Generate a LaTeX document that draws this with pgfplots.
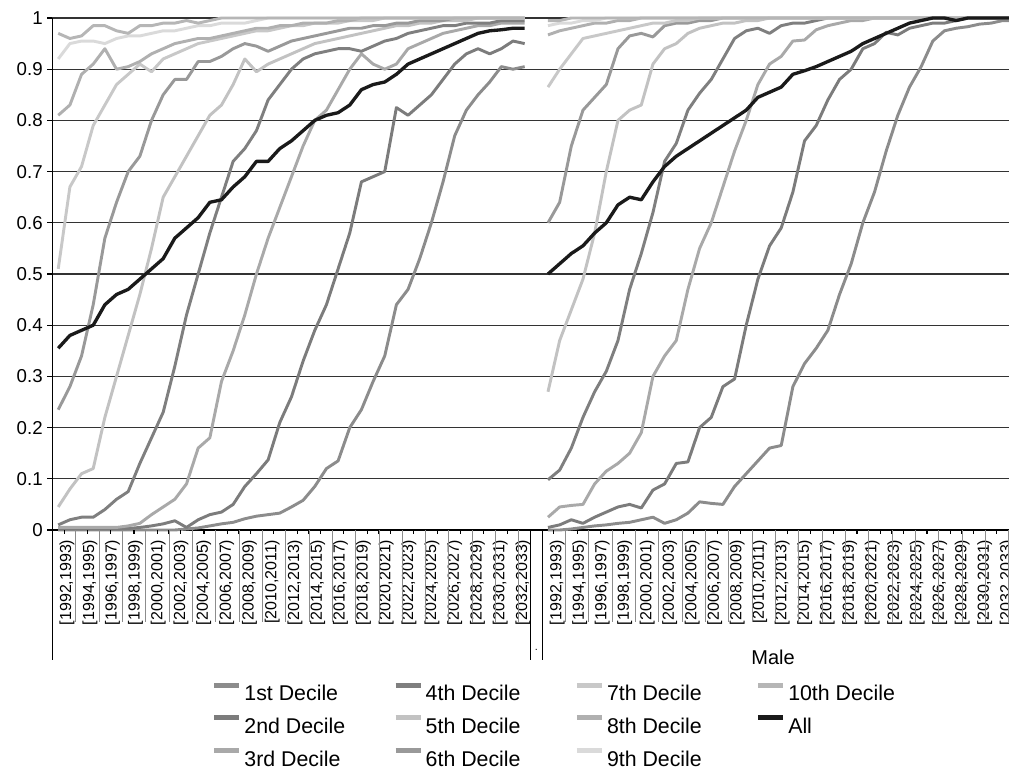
\documentclass[border=0pt]{standalone}
\usepackage{fontspec}
\setmainfont{Liberation Sans}
\usepackage{pgfplots}
\pgfplotsset{compat=1.18}
\usepackage{pgfplotstable}

\definecolor{cA}{HTML}{8C8C8C}
\definecolor{cB}{HTML}{7C7C7C}
\definecolor{cC}{HTML}{A9A9A9}
\definecolor{cD}{HTML}{7F7F7F}
\definecolor{cE}{HTML}{C2C2C2}
\definecolor{cF}{HTML}{999999}
\definecolor{cG}{HTML}{C8C8C8}
\definecolor{cH}{HTML}{B0B0B0}
\definecolor{cI}{HTML}{DADADA}
\definecolor{cJ}{HTML}{B6B6B6}
\definecolor{cAll}{HTML}{1A1A1A}

\pgfplotstableread{
k d1 d2 d3 d4 d5 d6 d7 d8 d9 d10 all
0 0.000 0.002 0.005 0.010 0.045 0.235 0.510 0.810 0.920 0.970 0.355
1 0.000 0.002 0.005 0.020 0.080 0.280 0.670 0.830 0.950 0.960 0.380
2 0.000 0.002 0.005 0.025 0.110 0.340 0.710 0.890 0.955 0.965 0.390
3 0.000 0.002 0.005 0.025 0.120 0.440 0.790 0.910 0.955 0.985 0.400
4 0.000 0.002 0.005 0.040 0.220 0.570 0.830 0.940 0.950 0.985 0.440
5 0.000 0.002 0.005 0.060 0.300 0.640 0.870 0.900 0.960 0.975 0.460
6 0.000 0.003 0.008 0.075 0.380 0.700 0.890 0.905 0.965 0.970 0.470
7 0.000 0.005 0.013 0.130 0.460 0.730 0.910 0.915 0.965 0.985 0.490
8 0.000 0.008 0.030 0.180 0.550 0.800 0.895 0.930 0.970 0.985 0.510
9 0.000 0.012 0.045 0.230 0.650 0.850 0.920 0.940 0.975 0.990 0.530
10 0.000 0.018 0.060 0.320 0.690 0.880 0.930 0.950 0.975 0.990 0.570
11 0.002 0.005 0.090 0.420 0.730 0.880 0.940 0.955 0.980 0.995 0.590
12 0.004 0.020 0.160 0.500 0.770 0.915 0.950 0.960 0.985 0.990 0.610
13 0.008 0.030 0.180 0.580 0.810 0.915 0.955 0.960 0.985 0.995 0.640
14 0.012 0.035 0.290 0.650 0.830 0.925 0.960 0.965 0.990 1.000 0.645
15 0.015 0.050 0.350 0.720 0.870 0.940 0.965 0.970 0.990 1.000 0.670
16 0.022 0.085 0.420 0.745 0.920 0.950 0.970 0.975 0.990 1.000 0.690
17 0.027 0.110 0.500 0.780 0.895 0.945 0.975 0.980 0.995 1.000 0.720
18 0.030 0.137 0.570 0.840 0.910 0.935 0.975 0.980 1.000 1.000 0.720
19 0.033 0.210 0.630 0.870 0.920 0.945 0.980 0.985 1.000 1.000 0.745
20 0.045 0.260 0.690 0.900 0.930 0.955 0.985 0.985 1.000 1.000 0.760
21 0.058 0.330 0.750 0.920 0.940 0.960 0.985 0.990 1.000 1.000 0.780
22 0.085 0.390 0.800 0.930 0.950 0.965 0.990 0.990 1.000 1.000 0.800
23 0.120 0.440 0.820 0.935 0.955 0.970 0.990 0.990 1.000 1.000 0.810
24 0.135 0.510 0.860 0.940 0.960 0.975 0.990 0.995 1.000 1.000 0.815
25 0.200 0.580 0.900 0.940 0.965 0.980 0.995 0.995 1.000 1.000 0.830
26 0.235 0.680 0.930 0.935 0.970 0.980 0.995 1.000 1.000 1.000 0.860
27 0.290 0.690 0.910 0.945 0.975 0.985 0.995 1.000 1.000 1.000 0.870
28 0.340 0.700 0.900 0.955 0.980 0.985 1.000 1.000 1.000 1.000 0.875
29 0.440 0.825 0.910 0.960 0.985 0.990 1.000 1.000 1.000 1.000 0.890
30 0.470 0.810 0.940 0.970 0.985 0.990 1.000 1.000 1.000 1.000 0.910
31 0.530 0.830 0.950 0.975 0.990 0.995 1.000 1.000 1.000 1.000 0.920
32 0.600 0.850 0.960 0.980 0.990 0.995 1.000 1.000 1.000 1.000 0.930
33 0.680 0.880 0.970 0.985 0.995 0.995 1.000 1.000 1.000 1.000 0.940
34 0.770 0.910 0.975 0.985 0.995 1.000 1.000 1.000 1.000 1.000 0.950
35 0.820 0.930 0.980 0.990 0.995 1.000 1.000 1.000 1.000 1.000 0.960
36 0.850 0.940 0.985 0.990 1.000 1.000 1.000 1.000 1.000 1.000 0.970
37 0.875 0.930 0.985 0.990 1.000 1.000 1.000 1.000 1.000 1.000 0.975
38 0.905 0.940 0.990 0.995 1.000 1.000 1.000 1.000 1.000 1.000 0.977
39 0.900 0.955 0.990 0.995 1.000 1.000 1.000 1.000 1.000 1.000 0.980
40 0.905 0.950 0.990 0.995 1.000 1.000 1.000 1.000 1.000 1.000 0.980
}\female

\pgfplotstableread{
k d1 d2 d3 d4 d5 d6 d7 d8 d9 d10 all
42 0.000 0.005 0.025 0.098 0.270 0.600 0.865 0.967 0.985 0.995 0.500
43 0.000 0.010 0.045 0.117 0.370 0.640 0.900 0.975 0.990 0.995 0.520
44 0.002 0.020 0.048 0.160 0.430 0.750 0.930 0.980 0.990 1.000 0.540
45 0.005 0.013 0.050 0.220 0.490 0.820 0.960 0.985 0.995 1.000 0.555
46 0.008 0.025 0.090 0.270 0.580 0.845 0.965 0.990 0.995 1.000 0.580
47 0.010 0.035 0.115 0.310 0.700 0.870 0.970 0.990 1.000 1.000 0.600
48 0.013 0.045 0.130 0.370 0.800 0.940 0.975 0.995 1.000 1.000 0.635
49 0.015 0.050 0.150 0.470 0.820 0.965 0.980 0.995 1.000 1.000 0.650
50 0.020 0.043 0.190 0.540 0.830 0.970 0.985 1.000 1.000 1.000 0.645
51 0.025 0.078 0.300 0.620 0.910 0.963 0.990 1.000 1.000 1.000 0.680
52 0.013 0.090 0.340 0.720 0.940 0.985 0.990 1.000 1.000 1.000 0.710
53 0.020 0.130 0.370 0.755 0.950 0.990 0.995 1.000 1.000 1.000 0.730
54 0.033 0.133 0.470 0.820 0.970 0.990 0.995 1.000 1.000 1.000 0.745
55 0.055 0.200 0.550 0.853 0.980 0.995 1.000 1.000 1.000 1.000 0.760
56 0.052 0.220 0.600 0.880 0.985 0.995 1.000 1.000 1.000 1.000 0.775
57 0.050 0.280 0.670 0.920 0.990 1.000 1.000 1.000 1.000 1.000 0.790
58 0.085 0.295 0.740 0.960 0.990 1.000 1.000 1.000 1.000 1.000 0.805
59 0.110 0.400 0.800 0.975 0.995 1.000 1.000 1.000 1.000 1.000 0.820
60 0.135 0.490 0.870 0.980 0.995 1.000 1.000 1.000 1.000 1.000 0.845
61 0.160 0.555 0.910 0.970 1.000 1.000 1.000 1.000 1.000 1.000 0.855
62 0.165 0.590 0.925 0.985 1.000 1.000 1.000 1.000 1.000 1.000 0.865
63 0.280 0.660 0.955 0.990 1.000 1.000 1.000 1.000 1.000 1.000 0.890
64 0.325 0.760 0.957 0.990 1.000 1.000 1.000 1.000 1.000 1.000 0.897
65 0.355 0.790 0.977 0.995 1.000 1.000 1.000 1.000 1.000 1.000 0.905
66 0.390 0.840 0.985 1.000 1.000 1.000 1.000 1.000 1.000 1.000 0.915
67 0.460 0.880 0.990 1.000 1.000 1.000 1.000 1.000 1.000 1.000 0.925
68 0.520 0.900 0.995 1.000 1.000 1.000 1.000 1.000 1.000 1.000 0.935
69 0.600 0.940 0.995 1.000 1.000 1.000 1.000 1.000 1.000 1.000 0.950
70 0.660 0.950 1.000 1.000 1.000 1.000 1.000 1.000 1.000 1.000 0.960
71 0.740 0.972 1.000 1.000 1.000 1.000 1.000 1.000 1.000 1.000 0.970
72 0.810 0.967 1.000 1.000 1.000 1.000 1.000 1.000 1.000 1.000 0.980
73 0.865 0.980 1.000 1.000 1.000 1.000 1.000 1.000 1.000 1.000 0.990
74 0.905 0.985 1.000 1.000 1.000 1.000 1.000 1.000 1.000 1.000 0.995
75 0.955 0.990 1.000 1.000 1.000 1.000 1.000 1.000 1.000 1.000 1.000
76 0.975 0.990 1.000 1.000 1.000 1.000 1.000 1.000 1.000 1.000 1.000
77 0.980 0.995 1.000 1.000 1.000 1.000 1.000 1.000 1.000 1.000 0.995
78 0.983 1.000 1.000 1.000 1.000 1.000 1.000 1.000 1.000 1.000 1.000
79 0.988 1.000 1.000 1.000 1.000 1.000 1.000 1.000 1.000 1.000 1.000
80 0.990 1.000 1.000 1.000 1.000 1.000 1.000 1.000 1.000 1.000 1.000
81 0.995 1.000 1.000 1.000 1.000 1.000 1.000 1.000 1.000 1.000 1.000
82 0.995 1.000 1.000 1.000 1.000 1.000 1.000 1.000 1.000 1.000 1.000
}\male

\begin{document}
\begin{tikzpicture}
\useasboundingbox (-39.3pt,-177.75pt) rectangle (717.45pt,397.5pt);
\begin{axis}[
  at={(0pt,0pt)}, anchor=south west,
  scale only axis, width=725.9pt, height=384pt,
  xmin=-0.5, xmax=82.5, ymin=0, ymax=1,
  clip=false,
  axis lines*=left,
  axis line style={-, black, line width=0.8pt},
  ytick={0,0.1,0.2,0.3,0.4,0.5,0.6,0.7,0.8,0.9,1},
  yticklabels={0,0.1,0.2,0.3,0.4,0.5,0.6,0.7,0.8,0.9,1},
  yticklabel style={font=\fontsize{14}{16}\selectfont},
  ymajorgrids, major grid style={black!80, line width=0.8pt},
  tick align=outside, major tick length=3.75pt,
  ytick style={black, line width=0.8pt},
  xtick style={draw=none},
  xtick={0.41,2.37,4.32,6.28,8.23,10.19,12.14,14.10,16.05,18.01,19.96,21.92,23.87,25.83,27.79,29.74,31.70,33.65,35.61,37.56,39.52,
         42.44,44.37,46.30,48.23,50.16,52.09,54.02,55.95,57.88,59.81,61.74,63.67,65.60,67.53,69.46,71.39,73.32,75.25,77.17,79.10,81.03},
  xticklabels={{[1992,1993)},{[1994,1995)},{[1996,1997)},{[1998,1999)},{[2000,2001)},{[2002,2003)},{[2004,2005)},{[2006,2007)},{[2008,2009)},{[2010,2011)},{[2012,2013)},{[2014,2015)},{[2016,2017)},{[2018,2019)},{[2020,2021)},{[2022,2023)},{[2024,2025)},{[2026,2027)},{[2028,2029)},{[2030,2031)},{[2032,2033)},
               {[1992,1993)},{[1994,1995)},{[1996,1997)},{[1998,1999)},{[2000,2001)},{[2002,2003)},{[2004,2005)},{[2006,2007)},{[2008,2009)},{[2010,2011)},{[2012,2013)},{[2014,2015)},{[2016,2017)},{[2018,2019)},{[2020,2021)},{[2022,2023)},{[2024,2025)},{[2026,2027)},{[2028,2029)},{[2030,2031)},{[2032,2033)}},
  xticklabel style={rotate=90, anchor=east, font=\fontsize{12}{12}\selectfont, yshift=-3pt},
  legend columns=4,
  legend cell align=left,
  legend style={at={(0.1649,-0.2934)}, anchor=north west, draw=none, fill=none,
    inner sep=0pt, outer sep=0pt, row sep=5.55pt, column sep=0pt,
    font=\fontsize{16}{19.2}\selectfont},
  legend image code/.code={\draw[#1, line width=3.6pt] (0pt,5.8pt) -- (18.75pt,5.8pt);},
  every axis plot/.append style={line width=2.2pt, line join=round},
]
% Female (left group)
\addplot[forget plot, cA] table[x=k,y=d1]{\female};
\addplot[forget plot, cB] table[x=k,y=d2]{\female};
\addplot[forget plot, cC] table[x=k,y=d3]{\female};
\addplot[forget plot, cD] table[x=k,y=d4]{\female};
\addplot[forget plot, cE] table[x=k,y=d5]{\female};
\addplot[forget plot, cF] table[x=k,y=d6]{\female};
\addplot[forget plot, cG] table[x=k,y=d7]{\female};
\addplot[forget plot, cH] table[x=k,y=d8]{\female};
\addplot[forget plot, cI] table[x=k,y=d9]{\female};
\addplot[forget plot, cJ] table[x=k,y=d10]{\female};
\addplot[forget plot, cAll, line width=2.5pt] table[x=k,y=all]{\female};
% Male (right group)
\addplot[forget plot, cA] table[x=k,y=d1]{\male};
\addplot[forget plot, cB] table[x=k,y=d2]{\male};
\addplot[forget plot, cC] table[x=k,y=d3]{\male};
\addplot[forget plot, cD] table[x=k,y=d4]{\male};
\addplot[forget plot, cE] table[x=k,y=d5]{\male};
\addplot[forget plot, cF] table[x=k,y=d6]{\male};
\addplot[forget plot, cG] table[x=k,y=d7]{\male};
\addplot[forget plot, cH] table[x=k,y=d8]{\male};
\addplot[forget plot, cI] table[x=k,y=d9]{\male};
\addplot[forget plot, cJ] table[x=k,y=d10]{\male};
\addplot[forget plot, cAll, line width=2.5pt] table[x=k,y=all]{\male};

% category boundary ticks and label-area lines
\pgfplotsinvokeforeach{-0.5,0.5,...,82.5}{
  \draw[black, line width=0.8pt] (axis cs:#1,0) -- ++(0pt,-3pt);
}
\draw[black, line width=0.8pt] (axis cs:-0.5,0) -- ++(0pt,-97.5pt);
\draw[black, line width=0.8pt] (axis cs:40.5,0) -- ++(0pt,-97.5pt);
\draw[black, line width=0.8pt] (axis cs:41.5,0) -- ++(0pt,-97.5pt);
\pgfplotsinvokeforeach{1.5,3.5,5.5,7.5,9.5,11.5,13.5,15.5,17.5,19.5,21.5,23.5,25.5,27.5,29.5,31.5,33.5,35.5,37.5,39.5,
  43.5,45.5,47.5,49.5,51.5,53.5,55.5,57.5,59.5,61.5,63.5,65.5,67.5,69.5,71.5,73.5,75.5,77.5,79.5,81.5}{
  \draw[black!45, line width=0.6pt] (axis cs:#1,0) -- ++(0pt,-69pt);
}
\node[font=\fontsize{15}{18}\selectfont] at (axis cs:61.3,0) [yshift=-95.25pt] {Male};
\node[font=\fontsize{8}{8}\selectfont] at (axis cs:41,0) [yshift=-90pt] {.};

% legend (row-wise order to give column-wise reading)
\addlegendimage{color=cA}\addlegendentry{\makebox[109.6pt][l]{\strut 1st Decile}}
\addlegendimage{color=cD}\addlegendentry{\makebox[109.6pt][l]{\strut 4th Decile}}
\addlegendimage{color=cG}\addlegendentry{\makebox[109.6pt][l]{\strut 7th Decile}}
\addlegendimage{color=cJ}\addlegendentry{\makebox[109.6pt][l]{\strut 10th Decile}}
\addlegendimage{color=cB}\addlegendentry{\makebox[109.6pt][l]{\strut 2nd Decile}}
\addlegendimage{color=cE}\addlegendentry{\makebox[109.6pt][l]{\strut 5th Decile}}
\addlegendimage{color=cH}\addlegendentry{\makebox[109.6pt][l]{\strut 8th Decile}}
\addlegendimage{color=cAll}\addlegendentry{\makebox[109.6pt][l]{\strut All}}
\addlegendimage{color=cC}\addlegendentry{\makebox[109.6pt][l]{\strut 3rd Decile}}
\addlegendimage{color=cF}\addlegendentry{\makebox[109.6pt][l]{\strut 6th Decile}}
\addlegendimage{color=cI}\addlegendentry{\makebox[109.6pt][l]{\strut 9th Decile}}
\end{axis}
\end{tikzpicture}
\end{document}
